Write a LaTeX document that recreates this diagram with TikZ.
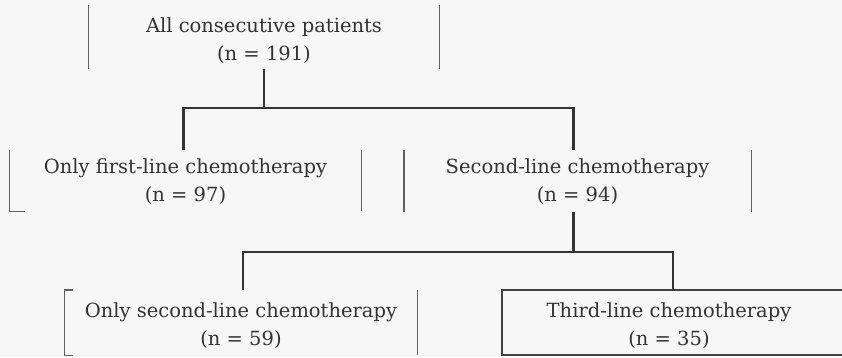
\documentclass[tikz,border=0pt]{standalone}
\usepackage{fontspec}
\setmainfont{DejaVu Serif}
\begin{document}
\begin{tikzpicture}[x=1bp,y=-1bp,
  boxnode/.style={rectangle,inner sep=0pt},
  boxtext/.style={inner sep=0pt,align=center,text=black!80,
    font=\fontsize{19.5bp}{28bp}\selectfont},
  side/.style={draw=black!62,line width=1.4bp},
  conn/.style={draw=black!80,line width=2.5bp},
  full/.style={draw=black!75,line width=2bp}]
\fill[black!3] (0,0) rectangle (842,357);
\useasboundingbox (0,0) rectangle (842,357);
% boxes
\node[boxnode,minimum width=351bp,minimum height=63bp,
  label={[boxtext,yshift=-4bp]center:All consecutive patients\\(n = 191)}] (b1) at (264,37) {};
\node[boxnode,minimum width=351bp,minimum height=61bp,
  label={[boxtext,yshift=-1bp]center:Only first-line chemotherapy\\(n = 97)}] (b2) at (185.5,180.5) {};
\node[boxnode,minimum width=347bp,minimum height=62bp,
  label={[boxtext,yshift=-1bp]center:Second-line chemotherapy\\(n = 94)}] (b3) at (577.5,181) {};
\node[boxnode,minimum width=352bp,minimum height=65bp,
  label={[boxtext,yshift=-3bp]center:Only second-line chemotherapy\\(n = 59)}] (b4) at (241,322.5) {};
\node[boxnode,minimum width=334bp,minimum height=64bp,
  label={[boxtext,yshift=-3bp]center:Third-line chemotherapy\\(n = 35)}] (b5) at (669,322.5) {};
% visible box sides
\draw[side] (b1.north west) -- (b1.south west);
\draw[side] (b1.north east) -- (b1.south east);
\draw[side] (b2.north west) -- (b2.south west) -- ++(15,0);
\draw[side] (b2.north east) -- (b2.south east);
\draw[side] (b3.north west) -- (b3.south west);
\draw[side] (b3.north east) -- (b3.south east);
\draw[side] ([xshift=8bp]b4.north west) -- (b4.north west) -- (b4.south west) -- ++(8,0);
\draw[side] (b4.north east) -- (b4.south east);
\draw[full] (850,0 |- b5.north) -- (b5.north west) -- (b5.south west) -- (850,0 |- b5.south);
% connectors
\coordinate (j1) at (0,108);
\coordinate (j2) at (0,252);
\draw[conn] (b1.south) -- (b1.south |- j1);
\draw[conn] ([xshift=-2bp]b2.north) -- ([xshift=-2bp]b2.north |- j1) -| ([xshift=-4bp]b3.north);
\draw[conn] ([xshift=-4bp]b3.south) -- ([xshift=-4bp]b3.south |- j2);
\draw[conn] ([xshift=2bp]b4.north) -- ([xshift=2bp]b4.north |- j2) -| ([xshift=4bp]b5.north);
\end{tikzpicture}
\end{document}
